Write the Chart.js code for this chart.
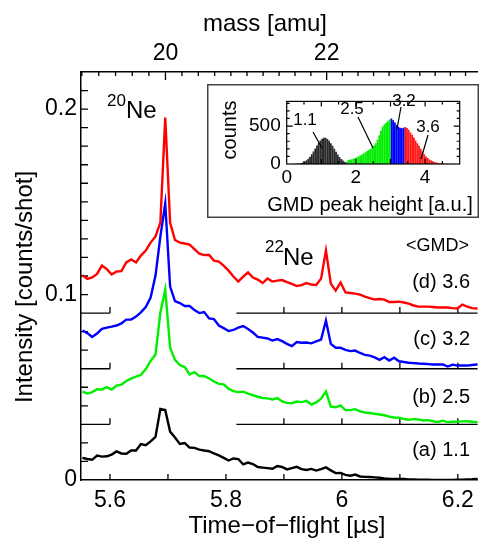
<!DOCTYPE html>
<html>
<head>
<meta charset="utf-8">
<script src="https://cdn.jsdelivr.net/npm/chart.js@4.4.0/dist/chart.umd.min.js"></script>
<style>
  html, body { margin: 0; padding: 0; background: #fff; overflow: hidden; }
  #wrap { position: relative; width: 481px; height: 539px; }
  #main { position: absolute; left: 0; top: 0; }
  #inset { position: absolute; left: 207px; top: 84px; }
</style>
</head>
<body>
<div id="wrap">
  <canvas id="main" width="481" height="539"></canvas>
  <canvas id="inset" width="272" height="134"></canvas>
</div>
<script>
// time-of-flight sampling of the traces (µs)
const tofStart = 5.5525;
const tofStep = 0.0084;

// raw intensities [counts/shot], one per time bin
const traceA = [0.0119,0.0113,0.0109,0.0132,0.0126,0.0128,0.0137,0.0154,0.0143,0.0141,
  0.0159,0.0159,0.0194,0.0188,0.0208,0.0232,0.0383,0.0377,0.0261,0.0229,
  0.0194,0.0199,0.0175,0.0173,0.0164,0.0159,0.0155,0.0143,0.0133,0.0119,
  0.0105,0.0116,0.0113,0.0084,0.0094,0.0086,0.0070,0.0067,0.0064,0.0061,
  0.0075,0.0070,0.0057,0.0064,0.0071,0.0059,0.0054,0.0060,0.0051,0.0059,
  0.0068,0.0052,0.0037,0.0038,0.0028,0.0023,0.0029,0.0019,0.0017,0.0016,
  0.0014,0.0012,0.0009,0.0007,0.0006,0.0006,0.0005,0.0003,0.0003,0.0002,
  0.0002,0.0001,0.0000,0.0000,0.0000,0.0000,0.0000,0.0001,0.0002,0.0003,
  0.0004,0.0006,0.0007];
const traceB = [0.0177,0.0166,0.0174,0.0189,0.0188,0.0201,0.0188,0.0209,0.0214,0.0234,
  0.0247,0.0258,0.0266,0.0298,0.0342,0.0377,0.0603,0.0727,0.0414,0.0348,
  0.0320,0.0309,0.0269,0.0282,0.0260,0.0261,0.0247,0.0231,0.0218,0.0216,
  0.0192,0.0179,0.0174,0.0176,0.0166,0.0157,0.0149,0.0142,0.0140,0.0134,
  0.0142,0.0124,0.0116,0.0114,0.0123,0.0120,0.0127,0.0107,0.0118,0.0139,
  0.0177,0.0096,0.0092,0.0102,0.0077,0.0077,0.0082,0.0070,0.0064,0.0061,
  0.0057,0.0053,0.0049,0.0042,0.0037,0.0036,0.0029,0.0025,0.0028,0.0027,
  0.0021,0.0023,0.0017,0.0013,0.0020,0.0012,0.0014,0.0015,0.0016,0.0017,
  0.0014,0.0012,0.0010];
const traceC = [0.0206,0.0192,0.0171,0.0190,0.0215,0.0222,0.0227,0.0233,0.0244,0.0265,
  0.0265,0.0281,0.0304,0.0333,0.0384,0.0502,0.0713,0.0891,0.0443,0.0365,
  0.0354,0.0338,0.0338,0.0316,0.0300,0.0306,0.0271,0.0268,0.0233,0.0219,
  0.0203,0.0209,0.0222,0.0230,0.0214,0.0195,0.0172,0.0168,0.0163,0.0152,
  0.0160,0.0149,0.0134,0.0122,0.0144,0.0140,0.0141,0.0137,0.0147,0.0157,
  0.0260,0.0134,0.0113,0.0113,0.0102,0.0095,0.0098,0.0085,0.0075,0.0071,
  0.0061,0.0048,0.0062,0.0044,0.0059,0.0040,0.0036,0.0032,0.0030,0.0028,
  0.0027,0.0025,0.0023,0.0023,0.0023,0.0012,0.0022,0.0017,0.0017,0.0017,
  0.0020,0.0023,0.0023];
const traceD = [0.0204,0.0184,0.0192,0.0211,0.0256,0.0237,0.0208,0.0224,0.0226,0.0273,
  0.0289,0.0273,0.0310,0.0337,0.0380,0.0413,0.0488,0.1054,0.0488,0.0394,
  0.0380,0.0375,0.0369,0.0345,0.0321,0.0313,0.0313,0.0283,0.0278,0.0256,
  0.0229,0.0197,0.0170,0.0197,0.0219,0.0192,0.0181,0.0162,0.0186,0.0170,
  0.0175,0.0178,0.0167,0.0157,0.0146,0.0151,0.0162,0.0154,0.0151,0.0186,
  0.0337,0.0159,0.0121,0.0165,0.0111,0.0108,0.0105,0.0100,0.0089,0.0081,
  0.0073,0.0076,0.0073,0.0060,0.0060,0.0062,0.0057,0.0051,0.0041,0.0035,
  0.0035,0.0035,0.0033,0.0030,0.0030,0.0030,0.0027,0.0025,0.0046,0.0035,
  0.0027,0.0025,0.0022];

const traceLabels  = ['(a) 1.1', '(b) 2.5', '(c) 3.2', '(d) 3.6'];
const traceOffsets = [0, 0.03, 0.06, 0.09];
const traceColors  = ['#000000', '#00ee00', '#0000ff', '#ff0000'];

// top axis: mass scale, tof = k * sqrt(m)
const tofPerSqrtAmu = 1.2736;
const massLabels = [20, 22];
function tofOfMass(m) { return tofPerSqrtAmu * Math.sqrt(m); }

// inset histogram: GMD peak height bins (width 0.05) and counts
const gmdBinWidth = 0.05;
const insetCountTicks = [0, 500];
const histA = { start: 0.225, color: '#2a2a2a', counts: [2,3,5,8,13,20,32,48,68,95,128,165,205,245,280,310,332,345,345,330,305,275,240,200,162,125,92,65,45,30,20] };
const histB = { start: 1.775, color: '#00ee00', counts: [48,55,62,70,80,90,100,112,125,140,155,170,185,200,220,245,275,320,380,440,495,525,545,565,585] };
const histC = { start: 3.025, color: '#0000ff', counts: [598,575,548,515,490,478,472,478] };
const histD = { start: 3.425, color: '#ff1a1a', counts: [488,475,450,415,385,350,310,275,240,200,165,130,100,78,60,45,35,26,19,14,10,7,5,4,3,2,1] };

Chart.defaults.font.family = '"Liberation Sans", Arial, Helvetica, sans-serif';
Chart.defaults.color = '#000';

const traces = [traceA, traceB, traceC, traceD];
const tof = traceA.map((_, i) => tofStart + i * tofStep);
const fmt = v => String(+v.toFixed(3));

const mainDatasets = [3, 2, 1, 0].map(k => ({
  label: traceLabels[k],
  data: traces[k].map((v, i) => ({ x: tof[i], y: v + traceOffsets[k] })),
  borderColor: traceColors[k],
  borderWidth: 2.4,
  pointRadius: 0,
  tension: 0,
  fill: false
}));

const mainDecor = {
  id: 'mainDecor',
  beforeDatasetsDraw(chart) {
    const { ctx, chartArea: a, scales: { x, y } } = chart;
    ctx.save();
    ctx.strokeStyle = '#000';
    ctx.lineWidth = 1.3;
    ctx.beginPath();
    for (let k = 1; k <= 21; k++) {
      const py = y.getPixelForValue(k / 100);
      ctx.moveTo(a.left, py); ctx.lineTo(a.left + 7, py);
    }
    for (let k = 56; k <= 62; k++) {
      const px = x.getPixelForValue(k / 10);
      ctx.moveTo(px, a.bottom); ctx.lineTo(px, a.bottom - 6);
    }
    for (let k = 95; k <= 119; k++) {
      const px = x.getPixelForValue(tofOfMass(k * 0.2));
      const len = k % 10 === 0 ? 8 : 4;
      ctx.moveTo(px, a.top); ctx.lineTo(px, a.top + len);
    }
    // zero lines of the shifted traces
    traceOffsets.slice(1).forEach(off => {
      const py = y.getPixelForValue(off);
      const p56 = x.getPixelForValue(5.6);
      ctx.moveTo(a.left, py); ctx.lineTo(p56, py);
      ctx.moveTo(p56, py); ctx.lineTo(p56, py - 6);
      ctx.moveTo(x.getPixelForValue(5.818), py); ctx.lineTo(a.right, py);
      for (let k = 59; k <= 62; k++) {
        const px = x.getPixelForValue(k / 10);
        ctx.moveTo(px, py); ctx.lineTo(px, py - 6);
      }
    });
    ctx.stroke();
    ctx.restore();
  },
  afterDraw(chart) {
    const ctx = chart.ctx;
    const ff = Chart.defaults.font.family;
    ctx.save();
    ctx.fillStyle = '#000';
    ctx.textAlign = 'center';
    ctx.textBaseline = 'middle';
    ctx.font = '24px ' + ff;
    ctx.fillText('mass [amu]', 265, 24);
    ctx.fillText('Time\u2212of\u2212flight [\u00b5s]', 287, 526);
    ctx.save();
    ctx.translate(25, 287);
    ctx.rotate(-Math.PI / 2);
    ctx.fillText('Intensity [counts/shot]', 0, 0);
    ctx.restore();

    ctx.textAlign = 'left';
    ctx.textBaseline = 'alphabetic';
    ctx.font = '17px ' + ff;
    ctx.fillText('20', 107, 106);
    ctx.fillText('22', 265, 252);
    ctx.font = '24px ' + ff;
    ctx.fillText('Ne', 126, 118);
    ctx.fillText('Ne', 283, 265);

    ctx.textAlign = 'right';
    ctx.textBaseline = 'middle';
    ctx.font = '18px ' + ff;
    ctx.fillText('<GMD>', 469, 246);
    ctx.font = '20px ' + ff;
    const labelY = [450, 397, 339, 282];
    traceLabels.forEach((t, k) => ctx.fillText(t, 470, labelY[k]));
    ctx.restore();
  }
};

new Chart(document.getElementById('main'), {
  type: 'line',
  data: { datasets: mainDatasets },
  options: {
    responsive: false,
    animation: false,
    layout: { padding: 0 },
    plugins: { legend: { display: false }, tooltip: { enabled: false } },
    scales: {
      x: {
        type: 'linear', position: 'bottom', min: 5.55, max: 6.234,
        grid: { display: false, drawTicks: false },
        border: { display: true, color: '#000', width: 1.5 },
        ticks: { stepSize: 0.2, includeBounds: false, padding: 7, font: { size: 23 }, callback: v => fmt(v) },
        afterFit: s => { s.height = 59; }
      },
      top: {
        type: 'linear', position: 'top', min: 5.55, max: 6.234,
        grid: { display: false, drawTicks: false },
        border: { display: true, color: '#000', width: 1.5 },
        ticks: { autoSkip: false, padding: 5, font: { size: 23 },
          callback: v => String(Math.round(Math.pow(v / tofPerSqrtAmu, 2))) },
        afterBuildTicks: s => { s.ticks = massLabels.map(m => ({ value: tofOfMass(m) })); },
        afterFit: s => { s.height = 72; }
      },
      y: {
        type: 'linear', min: 0, max: 0.22,
        grid: { display: false, drawTicks: false },
        border: { display: true, color: '#000', width: 1.5 },
        ticks: { stepSize: 0.1, includeBounds: false, padding: 4, font: { size: 23 }, callback: v => fmt(v) },
        afterFit: s => { s.width = 81; }
      }
    }
  },
  plugins: [mainDecor]
});

// ---------- inset ----------
const hists = [histA, histB, histC, histD];
const insetDatasets = hists.map(h => ({
  data: h.counts.map((c, i) => ({ x: h.start + i * gmdBinWidth, y: c })),
  backgroundColor: h.color,
  borderWidth: 0,
  grouped: false,
  barPercentage: 1.05,
  categoryPercentage: 1
}));

const insetNotes = [
  { text: '1.1', tx: 98, ty: 36, from: [106, 48], to: [115, 64] },
  { text: '2.5', tx: 145, ty: 25, from: [151, 33], to: [166, 64] },
  { text: '3.2', tx: 197, ty: 17, from: [194, 23], to: [190, 45] },
  { text: '3.6', tx: 221, ty: 43, from: [221, 51], to: [214, 75] }
];

const insetDecor = {
  id: 'insetDecor',
  beforeDraw(chart) {
    const ctx = chart.ctx;
    ctx.save();
    ctx.fillStyle = '#fff';
    ctx.fillRect(0, 0, chart.width, chart.height);
    ctx.strokeStyle = '#444';
    ctx.lineWidth = 1.5;
    ctx.strokeRect(0.75, 0.75, chart.width - 1.5, chart.height - 1.5);
    ctx.restore();
  },
  afterDraw(chart) {
    const { ctx, chartArea: a, scales: { x, y } } = chart;
    const ff = Chart.defaults.font.family;
    ctx.save();
    ctx.strokeStyle = '#000';
    ctx.lineWidth = 1.2;
    ctx.strokeRect(a.left, a.top, a.right - a.left, a.bottom - a.top);
    ctx.beginPath();
    for (let k = 1; k < 10; k++) {
      const px = x.getPixelForValue(k * 0.5);
      const len = k % 2 === 0 ? 5 : 3;
      ctx.moveTo(px, a.bottom); ctx.lineTo(px, a.bottom - len);
      ctx.moveTo(px, a.top); ctx.lineTo(px, a.top + len);
    }
    for (let k = 1; k <= 8; k++) {
      const py = y.getPixelForValue(k * 100);
      const len = k % 5 === 0 ? 6 : 3;
      ctx.moveTo(a.left, py); ctx.lineTo(a.left + len, py);
      ctx.moveTo(a.right, py); ctx.lineTo(a.right - len, py);
    }
    insetNotes.forEach(n => { ctx.moveTo(n.from[0], n.from[1]); ctx.lineTo(n.to[0], n.to[1]); });
    ctx.stroke();

    ctx.fillStyle = '#000';
    ctx.textAlign = 'center';
    ctx.textBaseline = 'middle';
    ctx.font = '17px ' + ff;
    insetNotes.forEach(n => ctx.fillText(n.text, n.tx, n.ty));
    ctx.font = '20px ' + ff;
    ctx.fillText('GMD peak height [a.u.]', 163, 121);
    ctx.translate(23, 46);
    ctx.rotate(-Math.PI / 2);
    ctx.fillText('counts', 0, 0);
    ctx.restore();
  }
};

new Chart(document.getElementById('inset'), {
  type: 'bar',
  data: { datasets: insetDatasets },
  options: {
    responsive: false,
    animation: false,
    layout: { padding: { top: 6, right: 19.3, left: 0, bottom: 0 } },
    plugins: { legend: { display: false }, tooltip: { enabled: false } },
    scales: {
      x: {
        type: 'linear', min: 0, max: 5, offset: false,
        grid: { display: false, drawTicks: false },
        border: { display: false },
        ticks: { stepSize: 2, includeBounds: false, padding: 2, font: { size: 19 } },
        afterFit: s => { s.height = 54; }
      },
      y: {
        type: 'linear', min: 0, max: 825,
        grid: { display: false, drawTicks: false },
        border: { display: false },
        ticks: { autoSkip: false, padding: 6, font: { size: 19 } },
        afterBuildTicks: s => { s.ticks = insetCountTicks.map(v => ({ value: v })); },
        afterFit: s => { s.width = 79.7; }
      }
    }
  },
  plugins: [insetDecor]
});
</script>
</body>
</html>
